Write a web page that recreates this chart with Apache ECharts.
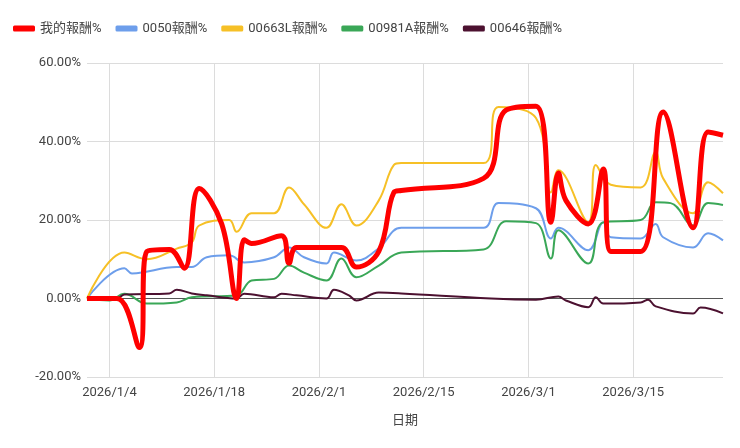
<!DOCTYPE html>
<html><head><meta charset="utf-8">
<script src="https://cdn.jsdelivr.net/npm/echarts@6/dist/echarts.min.js"></script>
<style>html,body{margin:0;background:#fff}#c{width:740px;height:448px}</style>
</head><body><div id="c"></div>
<script>
// 報酬率走勢
const seriesNames = ['我的報酬%', '0050報酬%', '00663L報酬%', '00981A報酬%', '00646報酬%'];
const tickDates = ['2026-01-04', '2026-01-18', '2026-02-01', '2026-02-15', '2026-03-01', '2026-03-15'];

const mine = [
  ['2026-01-01', 0], ['2026-01-05', 0], ['2026-01-08', -12.5], ['2026-01-09', 12], ['2026-01-12', 12.5],
  ['2026-01-14', 7.7], ['2026-01-16', 28], ['2026-01-19', 19], ['2026-01-21', 0], ['2026-01-22', 15],
  ['2026-01-23', 14], ['2026-01-27', 16], ['2026-01-28', 9], ['2026-01-29', 13], ['2026-02-04', 13],
  ['2026-02-06', 8], ['2026-02-09', 12], ['2026-02-11', 27], ['2026-02-12', 27.5], ['2026-02-23', 30.6],
  ['2026-02-26', 48], ['2026-03-02', 49], ['2026-03-04', 19.4], ['2026-03-05', 32], ['2026-03-06', 25],
  ['2026-03-09', 19], ['2026-03-11', 33], ['2026-03-12', 12], ['2026-03-16', 12], ['2026-03-19', 47.5],
  ['2026-03-23', 18], ['2026-03-25', 42.4], ['2026-03-27', 41.6]
];
const etf0050 = [
  ['2026-01-01', 0], ['2026-01-06', 7.7], ['2026-01-07', 6.4], ['2026-01-13', 8], ['2026-01-15', 8],
  ['2026-01-17', 10.5], ['2026-01-20', 11], ['2026-01-22', 9.2], ['2026-01-26', 10.5], ['2026-01-28', 13],
  ['2026-01-30', 10.5], ['2026-02-02', 8.9], ['2026-02-03', 11.7], ['2026-02-06', 9.7], ['2026-02-09', 12.8],
  ['2026-02-12', 18], ['2026-02-23', 18], ['2026-02-25', 24.3], ['2026-03-02', 23], ['2026-03-04', 15.3],
  ['2026-03-05', 18], ['2026-03-09', 12.3], ['2026-03-11', 19.4], ['2026-03-12', 15.6], ['2026-03-16', 15.3],
  ['2026-03-18', 19], ['2026-03-19', 15.6], ['2026-03-23', 13], ['2026-03-25', 16.6], ['2026-03-27', 14.8]
];
const etf00663L = [
  ['2026-01-01', 0], ['2026-01-06', 11.7], ['2026-01-09', 10], ['2026-01-13', 12.7], ['2026-01-15', 14.3],
  ['2026-01-16', 18.6], ['2026-01-20', 20], ['2026-01-21', 17], ['2026-01-23', 21.7], ['2026-01-26', 21.7],
  ['2026-01-28', 28.3], ['2026-01-30', 24], ['2026-02-02', 18], ['2026-02-04', 24], ['2026-02-06', 18.6],
  ['2026-02-09', 25], ['2026-02-11', 34], ['2026-02-12', 34.5], ['2026-02-23', 34.5], ['2026-02-25', 48.8],
  ['2026-03-02', 46], ['2026-03-04', 27], ['2026-03-05', 32.7], ['2026-03-09', 19.4], ['2026-03-10', 34],
  ['2026-03-12', 29], ['2026-03-16', 28.3], ['2026-03-18', 37.3], ['2026-03-19', 30.6], ['2026-03-23', 21.7],
  ['2026-03-25', 29.6], ['2026-03-27', 26.8]
];
const etf00981A = [
  ['2026-01-01', 0], ['2026-01-04', -0.5], ['2026-01-06', 1.2], ['2026-01-09', -1.3], ['2026-01-13', -1],
  ['2026-01-15', 0.3], ['2026-01-21', 0.8], ['2026-01-23', 4.6], ['2026-01-26', 5], ['2026-01-28', 8.4],
  ['2026-01-30', 6.6], ['2026-02-02', 4.6], ['2026-02-04', 10.2], ['2026-02-06', 5.4], ['2026-02-09', 8.4],
  ['2026-02-12', 11.7], ['2026-02-23', 12.5], ['2026-02-26', 19.7], ['2026-03-02', 19.2], ['2026-03-04', 10.2],
  ['2026-03-05', 17.4], ['2026-03-09', 8.9], ['2026-03-11', 19.4], ['2026-03-16', 20], ['2026-03-18', 24.5],
  ['2026-03-20', 24.3], ['2026-03-23', 18.6], ['2026-03-25', 24.3], ['2026-03-27', 23.8]
];
const etf00646 = [
  ['2026-01-01', 0], ['2026-01-05', 0], ['2026-01-06', 1], ['2026-01-12', 1.3], ['2026-01-13', 2.2],
  ['2026-01-15', 1.3], ['2026-01-17', 0.8], ['2026-01-21', 0], ['2026-01-22', 1.2], ['2026-01-26', 0.3],
  ['2026-01-27', 1.2], ['2026-01-29', 0.8], ['2026-02-02', 0], ['2026-02-03', 2.2], ['2026-02-05', 0.8],
  ['2026-02-06', -0.5], ['2026-02-09', 1.5], ['2026-02-12', 1.3], ['2026-02-24', 0], ['2026-03-02', -0.3],
  ['2026-03-05', 0.5], ['2026-03-06', -0.5], ['2026-03-09', -2.2], ['2026-03-10', 0.3], ['2026-03-11', -1.3],
  ['2026-03-16', -1], ['2026-03-17', -0.3], ['2026-03-18', -2], ['2026-03-23', -3.8], ['2026-03-24', -2.3],
  ['2026-03-27', -3.8]
];

const COLORS = ['#ff0000', '#6d9eeb', '#f6c026', '#3aa757', '#4c1130'];
const seriesData = [mine, etf0050, etf00663L, etf00981A, etf00646];
const toTs = s => { const [y, m, d] = s.split('-').map(Number); return +new Date(y, m - 1, d); };
const ticks = tickDates.map(toTs);

const chart = echarts.init(document.getElementById('c'));
chart.setOption({
  animation: false,
  backgroundColor: '#fff',
  color: COLORS,
  textStyle: { fontFamily: 'Roboto, "Noto Sans CJK TC", sans-serif' },
  legend: {
    top: 17, left: 8, itemGap: 14, itemWidth: 22, itemHeight: 6, icon: 'roundRect',
    textStyle: { color: '#444', fontSize: 13 },
    data: seriesNames
  },
  grid: { left: 87, right: 17, top: 63, bottom: 71 },
  xAxis: {
    type: 'value',
    min: toTs('2026-01-01'), max: toTs('2026-03-27'),
    name: '日期', nameLocation: 'middle', nameGap: 37,
    nameTextStyle: { color: '#444', fontSize: 13 },
    axisLine: { show: false },
    axisTick: { show: false, customValues: ticks },
    axisLabel: {
      customValues: ticks, color: '#444', fontSize: 13, margin: 9,
      formatter: v => { const d = new Date(v); return `${d.getFullYear()}/${d.getMonth() + 1}/${d.getDate()}`; }
    },
    splitLine: { show: false }
  },
  yAxis: {
    type: 'value', min: -20, max: 60, interval: 20,
    axisLine: { show: false }, axisTick: { show: false },
    axisLabel: { color: '#444', fontSize: 13, margin: 6, formatter: v => v.toFixed(2) + '%' },
    splitLine: { lineStyle: { color: '#dcdcdc' } }
  },
  series: seriesNames.map((name, i) => ({
    name, type: 'line', smooth: 0.4, showSymbol: false,
    data: seriesData[i].map(([d, v]) => [toTs(d), v]),
    lineStyle: { width: i === 0 ? 5 : 2 },
    z: i === 0 ? 3 : 2,
    markLine: i === 4 ? {
      symbol: 'none', silent: true, label: { show: false }, z: 1,
      lineStyle: { color: '#dcdcdc', type: 'solid', width: 1 },
      data: ticks.map(t => ({ xAxis: t })).concat([{ yAxis: 0, lineStyle: { color: '#555' } }])
    } : undefined
  }))
});
</script></body></html>
